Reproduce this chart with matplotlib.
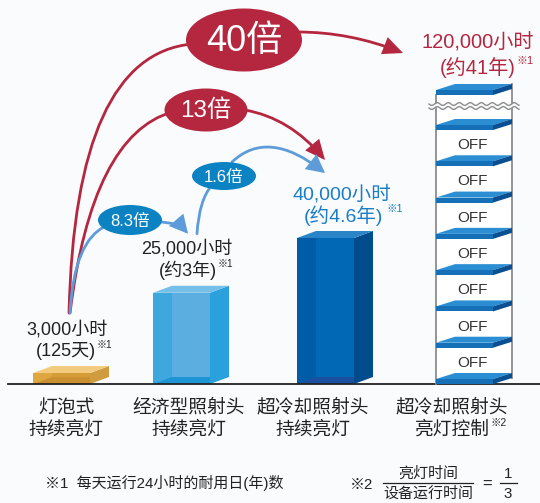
import numpy as np
import matplotlib.pyplot as plt
from matplotlib.patches import Polygon, Ellipse, FancyArrowPatch, Rectangle
from matplotlib.path import Path

plt.rcParams['font.family'] = ['Liberation Sans', 'Noto Sans CJK SC', 'DejaVu Sans']

# lamp life data
hours = [3000, 25000, 40000, 120000]
hour_labels = ['3,000小时', '25,000小时', '40,000小时', '120,000小时']
life_labels = ['(125天)', '(约3年)', '(约4.6年)', '(约41年)']
cat_line1 = ['灯泡式', '经济型照射头', '超冷却照射头', '超冷却照射头']
cat_line2 = ['持续亮灯', '持续亮灯', '持续亮灯', '亮灯控制']
ratio_labels = ['8.3倍', '1.6倍', '13倍', '40倍']
off_labels = ['OFF'] * 7

W, H = 540, 503
BASE = 384                 # baseline, px from top
PX_PER_HOUR = 146 / 40000
BAR_W, DX, DY = 57, 19, 7

RED = '#b4273f'
BLUE_TXT = '#1a7dc6'
BLUE_OVAL = '#0b82c2'
BLUE_ARROW = '#5d9cd9'
DARK = '#222222'

fig = plt.figure(figsize=(W / 100, H / 100), dpi=100, facecolor='#fafbfd')

# bars live on an hours scale, everything else on a pixel grid
bx = fig.add_axes([0, 0, 1, 1])
bx.set_xlim(0, W)
bx.set_ylim(-(H - BASE) / PX_PER_HOUR, BASE / PX_PER_HOUR)
bx.axis('off')
ax = fig.add_axes([0, 0, 1, 1])
ax.set_xlim(0, W)
ax.set_ylim(H, 0)
ax.axis('off')
ax.set_zorder(2)
ax.patch.set_alpha(0)
renderer = fig.canvas.get_renderer()

bar_left = [33, 153, 297]
bar_colors = [
    dict(front='#dea73f', inner='#d59c37', top='#f3cb7e', side='#cf9b3c', bottom='#c98f30'),
    dict(front='#3ea7de', inner='#5aafe0', top='#76bfe9', side='#2aa1dc', bottom='#1d95d4'),
    dict(front='#005ca8', inner='#0068b5', top='#2a84c8', side='#004c8c', bottom='#1b4fa0'),
]

dyh = DY / PX_PER_HOUR
for xl, v, c in zip(bar_left, hours[:3], bar_colors):
    bx.bar(xl, v, width=BAR_W, align='edge', color=c['front'], lw=0, zorder=2)
    bx.add_patch(Polygon([(xl + DX, dyh), (xl + BAR_W, dyh), (xl + BAR_W, v), (xl + DX, v)],
                         closed=True, color=c['inner'], lw=0, zorder=3))
    bx.add_patch(Polygon([(xl, 0), (xl + DX, dyh), (xl + BAR_W, dyh), (xl + BAR_W, 0)],
                         closed=True, color=c['bottom'], lw=0, zorder=3))
    bx.add_patch(Polygon([(xl + BAR_W, 0), (xl + BAR_W + DX, dyh), (xl + BAR_W + DX, v + dyh), (xl + BAR_W, v)],
                         closed=True, color=c['side'], lw=0, zorder=3))
    bx.add_patch(Polygon([(xl, v), (xl + BAR_W, v), (xl + BAR_W + DX, v + dyh), (xl + DX, v + dyh)],
                         closed=True, color=c['top'], lw=0, zorder=3))

bx.axhline(0, xmin=8 / W, xmax=1, color=DARK, lw=1.3, zorder=4)


def to_px(x, v):
    disp = bx.transData.transform((x, v))
    return ax.transData.inverted().transform(disp)


def with_mark(x, y, main, mark, color, size, gap=1.0):
    t = ax.text(x, y, main, ha='center', va='center', fontsize=size, color=color, zorder=6)
    bb = t.get_window_extent(renderer)
    xr = ax.transData.inverted().transform((bb.x1, bb.y1))[0]
    ax.text(xr + gap, y - size * 0.5, mark, ha='left', va='center',
            fontsize=size * 0.55, color=color, zorder=6)


# value labels above the bars
label_x = [67, 187, 342]
line2_x = [66, 188, 343]
label_col = [DARK, DARK, BLUE_TXT]
label_size = [13, 13, 14]
label_y = []
for i in range(3):
    top = to_px(bar_left[i], hours[i])[1] - DY
    y1, y2 = top - 37, top - 15
    label_y.append(y1)
    ax.text(label_x[i], y1, hour_labels[i], ha='center', va='center',
            fontsize=label_size[i], color=label_col[i], zorder=6)
    with_mark(line2_x[i], y2, life_labels[i], '※1', label_col[i], label_size[i],
              gap=4 if i == 2 else 1)

# tower for the controlled head (axis broken above)
TX = 436
n = len(off_labels)
step = (BASE - 130) / n
plate_b = [BASE - i * step for i in range(n + 1)] + [95]
ax.add_patch(Polygon([(TX, 95), (TX + BAR_W + DX, 89), (TX + BAR_W + DX, BASE - 6), (TX, BASE)],
                     closed=True, color='white', lw=0, zorder=2))
ax.plot([TX, TX], [95, BASE], color='#8c8c8c', lw=1.3, zorder=3)
ax.plot([TX + BAR_W + DX] * 2, [84, BASE - 6], color='#8c8c8c', lw=1.3, zorder=3)
for b in plate_b:
    ax.add_patch(Polygon([(TX, b - 5), (TX + BAR_W, b - 5), (TX + BAR_W + DX, b - 11), (TX + DX, b - 11)],
                         closed=True, color='#2b8ed3', lw=0, zorder=4))
    ax.add_patch(Rectangle((TX, b - 5), BAR_W, 5, color='#1570b8', lw=0, zorder=4))
    ax.add_patch(Polygon([(TX + BAR_W, b - 5), (TX + BAR_W + DX, b - 11), (TX + BAR_W + DX, b - 6), (TX + BAR_W, b)],
                         closed=True, color='#0a4f91', lw=0, zorder=4))
for i, lab in enumerate(off_labels):
    yc = (plate_b[i] + plate_b[i + 1]) / 2 - 3
    ax.text(472, yc, lab, ha='center', va='center', fontsize=11, color='#333333', zorder=5)

# break mark
wx = np.linspace(429, 519, 200)
wy = 104 + 1.4 * np.sin(2 * np.pi * (wx - 429) / 11)
ax.fill_between(wx, wy, wy + 4, color='#fafbfd', lw=0, zorder=5)
ax.plot(wx, wy, color='#8c8c8c', lw=1.0, zorder=6)
ax.plot(wx, wy + 4, color='#8c8c8c', lw=1.0, zorder=6)

ax.text(478, 43, hour_labels[3], ha='center', va='center', fontsize=14.5, color=RED, zorder=6)
with_mark(478, 68, life_labels[3], '※1', RED, 14.5)


def curve(p0, c, p1, color, head=True, lw=2.0, hl=0.55, hw=0.25):
    path = Path([p0, c, p1], [Path.MOVETO, Path.CURVE3, Path.CURVE3])
    style = '-|>,head_length=%.2f,head_width=%.2f' % (hl, hw) if head else '-'
    ax.add_patch(FancyArrowPatch(path=path, arrowstyle=style, mutation_scale=20,
                                 color=color, lw=lw, shrinkA=0, shrinkB=0,
                                 joinstyle='miter', zorder=3))


def oval(xy, w, h, color, text, size):
    ax.add_patch(Ellipse(xy, w, h, color=color, lw=0, zorder=4))
    ax.text(xy[0], xy[1] + 1, text, ha='center', va='center', fontsize=size,
            color='white', zorder=5)


lab2_top = label_y[1] - 15

# ratio arrows
curve((69, 313), (75, 55), (192, 44), RED, head=False)
curve((298, 32), (350, 32), (403, 53), RED)
curve((70, 313), (92, 135), (172, 112), RED, head=False)
curve((245, 110), (290, 118), (325, 160), RED)
curve((197, lab2_top), (199, 200), (212, 185), BLUE_ARROW, head=False)
curve((232, 162), (268, 128), (325, 173), BLUE_ARROW, hl=0.5, hw=0.26)
curve((70, 313), (74, 240), (106, 226), BLUE_ARROW, head=False)
curve((158, 222), (178, 222), (188, lab2_top), BLUE_ARROW, hl=0.5, hw=0.26)

oval((244, 40), 116, 63, RED, ratio_labels[3], 26)
oval((206, 110), 83, 43, RED, ratio_labels[2], 17.5)
oval((224, 176), 64, 28, BLUE_OVAL, ratio_labels[1], 12)
oval((130, 220), 64, 30, BLUE_OVAL, ratio_labels[0], 12)

# category names
cat_x = [66, 189, 313, 452]
for i in range(4):
    ax.text(cat_x[i], 408, cat_line1[i], ha='center', va='center', fontsize=13.5, color=DARK)
    if i == 3:
        with_mark(cat_x[i], 430, cat_line2[i], '※2', DARK, 13.5)
    else:
        ax.text(cat_x[i], 430, cat_line2[i], ha='center', va='center', fontsize=13.5, color=DARK)

# footnotes
ax.text(45, 483, '※1  每天运行24小时的耐用日(年)数', ha='left', va='center', fontsize=10.8, color=DARK)
ax.text(350, 485, '※2', ha='left', va='center', fontsize=10.8, color=DARK)
ax.text(428, 474, '亮灯时间', ha='center', va='center', fontsize=10.8, color=DARK)
ax.text(428, 494, '设备运行时间', ha='center', va='center', fontsize=10.8, color=DARK)
ax.plot([383, 473], [483, 483], color=DARK, lw=0.9)
ax.text(487, 484, '=', ha='center', va='center', fontsize=12, color=DARK)
ax.text(508, 474, '1', ha='center', va='center', fontsize=10.8, color=DARK)
ax.text(508, 494, '3', ha='center', va='center', fontsize=10.8, color=DARK)
ax.plot([500, 517], [483, 483], color=DARK, lw=0.9)

fig.savefig('out.png', dpi=100, facecolor=fig.get_facecolor())
